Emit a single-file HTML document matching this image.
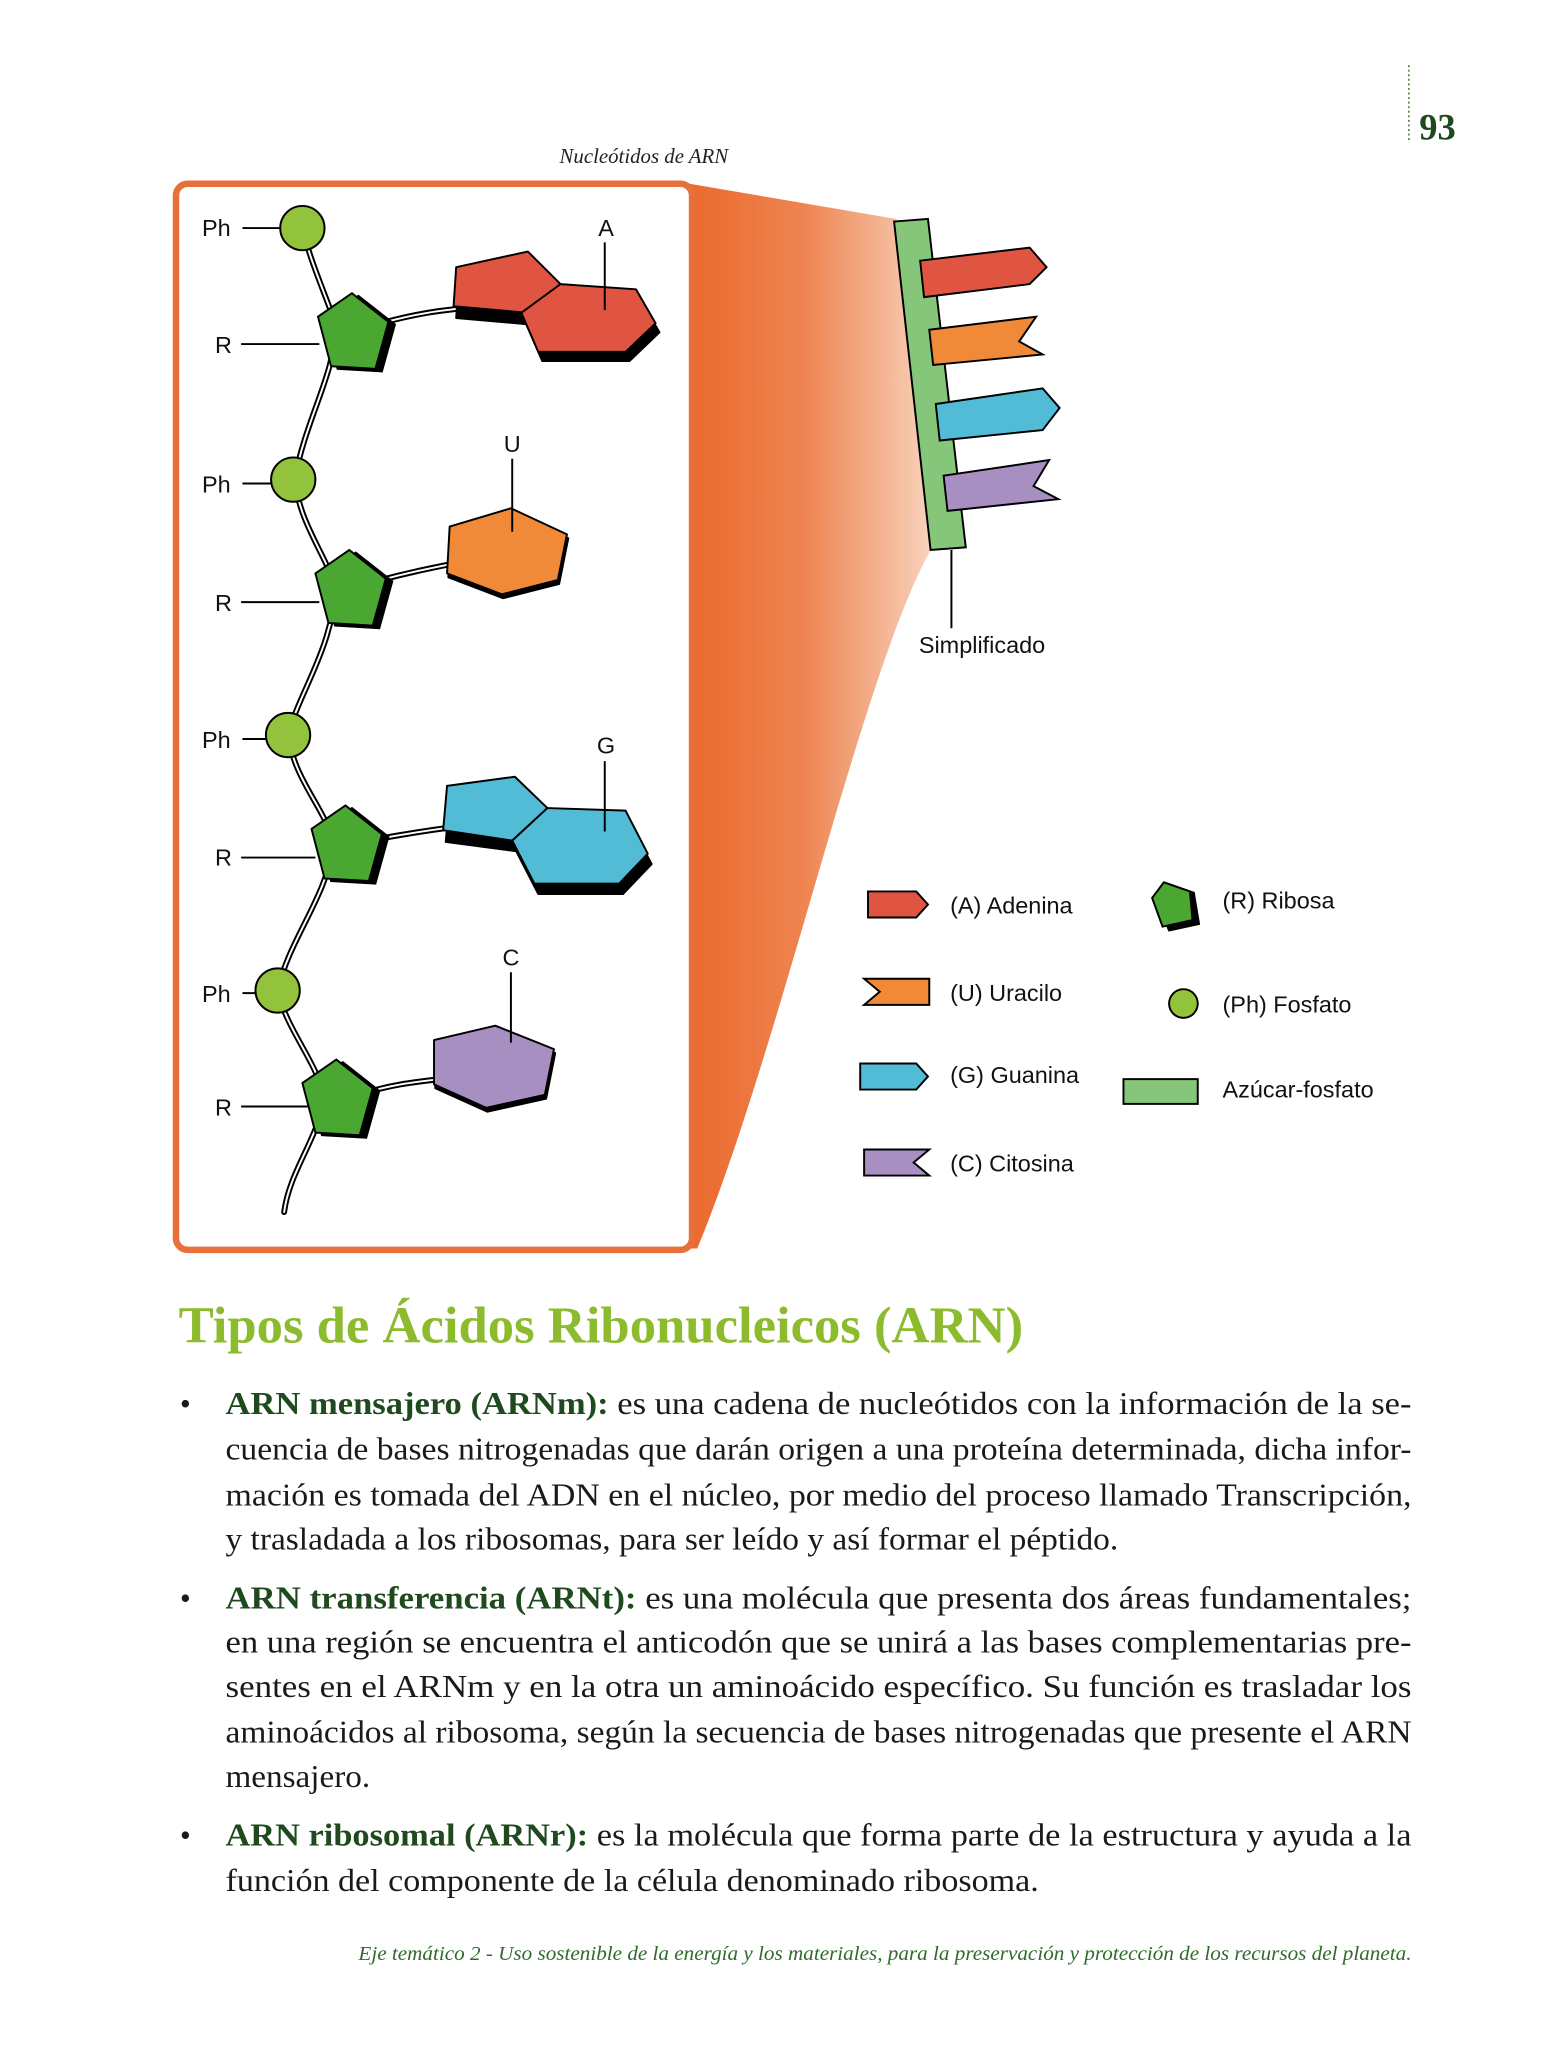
<!DOCTYPE html>
<html><head><meta charset="utf-8">
<style>
html,body{margin:0;padding:0;background:#fff;}
svg{display:block;}
.sans{font-family:"Liberation Sans",sans-serif;}
.serif{font-family:"Liberation Serif",serif;}
</style></head>
<body>
<svg width="1564" height="2048" viewBox="0 0 1200 1571.4" xmlns="http://www.w3.org/2000/svg">
<defs>
<linearGradient id="fan" x1="531" y1="0" x2="720" y2="0" gradientUnits="userSpaceOnUse">
<stop offset="0" stop-color="#ea6a2e"/><stop offset="0.45" stop-color="#ee8450"/><stop offset="1" stop-color="#f9d6c2"/>
</linearGradient>
</defs>
<rect width="1200" height="1572" fill="#fff"/>
<line x1="1081" y1="50" x2="1081" y2="108" stroke="#4a7a3a" stroke-width="1.2" stroke-dasharray="1.5,2"/>
<text x="1089" y="107" class="serif" font-size="28" font-weight="bold" fill="#1e4a1e">93</text>
<text x="494" y="125" class="serif" font-size="16" font-style="italic" text-anchor="middle" fill="#222">Nucleótidos de ARN</text>

<path d="M529,141 L688,168 L714,422 C660,520 600,800 535,958 L529,958 Z" fill="url(#fan)"/>
<rect x="135" y="141" width="396" height="818" rx="9" fill="#fff" stroke="#e8703a" stroke-width="5"/>

<polygon points="686,170 712,168 741,420 714,422" fill="#86c67a" stroke="#000" stroke-width="1.5"/>
<polygon points="706,200 790,190 803,205 790,218 709,228" fill="#e05541" stroke="#000" stroke-width="1.5"/>
<polygon points="713,253 795,243 782,262 800,272 716,280" fill="#f08a38" stroke="#000" stroke-width="1.5"/>
<polygon points="718,310 800,298 813,313 800,330 721,338" fill="#52bcd6" stroke="#000" stroke-width="1.5"/>
<polygon points="724,365 805,353 793,373 812,383 727,392" fill="#a88fc2" stroke="#000" stroke-width="1.5"/>
<line x1="730" y1="422" x2="730" y2="482" stroke="#000" stroke-width="1.5"/>
<text x="705" y="501" class="sans" font-size="18" fill="#111">Simplificado</text>

<g fill="none" stroke-linecap="round">
<path d="M232,175 C238,200 248,222 258,250 C256,290 235,320 226,368 C230,400 246,420 258,450 C254,500 230,530 221,564 C226,600 250,620 256,648 C250,690 222,720 213,760 C220,790 240,810 250,843 C240,880 222,900 218,930" stroke="#000" stroke-width="4.5"/>
<path d="M232,175 C238,200 248,222 258,250 C256,290 235,320 226,368 C230,400 246,420 258,450 C254,500 230,530 221,564 C226,600 250,620 256,648 C250,690 222,720 213,760 C220,790 240,810 250,843 C240,880 222,900 218,930" stroke="#fff" stroke-width="1.5"/>
<g stroke="#000" stroke-width="4.5">
<path d="M285,250 C320,240 340,238 360,236"/><path d="M285,447 C310,440 330,436 350,432"/><path d="M283,645 C310,640 330,637 345,635"/><path d="M275,840 C300,832 320,830 338,828"/>
</g>
<g stroke="#fff" stroke-width="1.5">
<path d="M285,250 C320,240 340,238 360,236"/><path d="M285,447 C310,440 330,436 350,432"/><path d="M283,645 C310,640 330,637 345,635"/><path d="M275,840 C300,832 320,830 338,828"/>
</g>
</g>
<g class="sans" font-size="18" fill="#111">
<text x="155" y="181">Ph</text><text x="155" y="378">Ph</text><text x="155" y="574">Ph</text><text x="155" y="769">Ph</text>
<text x="165" y="271">R</text><text x="165" y="469">R</text><text x="165" y="664">R</text><text x="165" y="856">R</text>
</g>
<g stroke="#000" stroke-width="1.5">
<line x1="186" y1="175" x2="215" y2="175"/><line x1="186" y1="371" x2="208" y2="371"/><line x1="186" y1="567" x2="204" y2="567"/><line x1="186" y1="762" x2="196" y2="762"/>
<line x1="185" y1="264" x2="245" y2="264"/><line x1="185" y1="462" x2="245" y2="462"/><line x1="185" y1="658" x2="242" y2="658"/><line x1="185" y1="849" x2="236" y2="849"/>
</g>
<g fill="#93c23d" stroke="#000" stroke-width="1.5">
<circle cx="232" cy="175" r="17"/><circle cx="225" cy="368" r="17"/><circle cx="221" cy="564" r="17"/><circle cx="213" cy="760" r="17"/>
</g>
<g stroke="#000" stroke-width="1.5">
<g transform="translate(268,255)"><polygon points="2,-30 30,-8 20,28 -14,26 -24,-12" fill="#000" transform="translate(5,2)"/><polygon points="2,-30 30,-8 20,28 -14,26 -24,-12" fill="#4aa832"/></g>
<g transform="translate(266,452)"><polygon points="2,-30 30,-8 20,28 -14,26 -24,-12" fill="#000" transform="translate(5,2)"/><polygon points="2,-30 30,-8 20,28 -14,26 -24,-12" fill="#4aa832"/></g>
<g transform="translate(263,648)"><polygon points="2,-30 30,-8 20,28 -14,26 -24,-12" fill="#000" transform="translate(5,2)"/><polygon points="2,-30 30,-8 20,28 -14,26 -24,-12" fill="#4aa832"/></g>
<g transform="translate(256,843)"><polygon points="2,-30 30,-8 20,28 -14,26 -24,-12" fill="#000" transform="translate(5,2)"/><polygon points="2,-30 30,-8 20,28 -14,26 -24,-12" fill="#4aa832"/></g>
</g>
<g stroke="#000" stroke-width="1.5" stroke-linejoin="round">
<polygon points="350,208 405,197 430,220 405,244 348,239" fill="#000" transform="translate(2,5)"/>
<polygon points="430,220 488,224 503,250 480,272 413,272 400,242" fill="#000" transform="translate(3,5)"/>
<polygon points="350,205 405,193 430,218 405,240 348,235" fill="#e05541"/>
<polygon points="430,218 488,222 503,248 480,270 413,270 400,240" fill="#e05541"/>
<polygon points="345,404 392,390 435,410 428,445 385,456 343,440" fill="#000" transform="translate(1,3)"/>
<polygon points="345,404 392,390 435,410 428,445 385,456 343,440" fill="#f08a38"/>
<polygon points="343,606 395,600 420,623 393,648 340,641" fill="#000" transform="translate(2,5)"/>
<polygon points="420,623 480,626 497,658 475,681 410,681 393,648" fill="#000" transform="translate(3,5)"/>
<polygon points="343,603 395,596 420,620 393,645 340,637" fill="#52bcd6"/>
<polygon points="420,620 480,622 497,655 475,678 410,678 393,645" fill="#52bcd6"/>
<polygon points="333,798 380,787 425,805 418,840 373,850 333,832" fill="#000" transform="translate(1,3)"/>
<polygon points="333,798 380,787 425,805 418,840 373,850 333,832" fill="#a88fc2"/>
<line x1="464" y1="186" x2="464" y2="238"/><line x1="393" y1="352" x2="393" y2="408"/><line x1="464" y1="584" x2="464" y2="638"/><line x1="392" y1="746" x2="392" y2="800"/>
</g>
<g class="sans" font-size="18" fill="#111" text-anchor="middle">
<text x="465" y="181">A</text><text x="393" y="347">U</text><text x="465" y="578">G</text><text x="392" y="741">C</text>
</g>

<g stroke="#000" stroke-width="1.5">
<polygon points="666,684 703,684 712,694 703,704 666,704" fill="#e05541"/>
<polygon points="663,751 713,751 713,771 663,771 675,761" fill="#f08a38"/>
<polygon points="660,816 703,816 712,826 703,836 660,836" fill="#52bcd6"/>
<polygon points="663,882 713,882 701,892 713,902 663,902" fill="#a88fc2"/>
<polygon points="893,677 913,684 917,708 894,713 884,689" fill="#000" transform="translate(3,1)"/>
<polygon points="893,677 913,684 915,706 892,711 884,689" fill="#4aa832"/>
<circle cx="908" cy="770" r="11" fill="#93c23d"/>
<rect x="862" y="828" width="57" height="19" fill="#86c67a"/>
</g>
<g class="sans" font-size="18" fill="#111">
<text x="729" y="701">(A) Adenina</text>
<text x="729" y="768">(U) Uracilo</text>
<text x="729" y="831">(G) Guanina</text>
<text x="729" y="899">(C) Citosina</text>
<text x="938" y="697">(R) Ribosa</text>
<text x="938" y="777">(Ph) Fosfato</text>
<text x="938" y="842">Azúcar-fosfato</text>
</g>

<text x="137" y="1030" class="serif" font-size="40" font-weight="bold" fill="#8dbb2e" textLength="648" lengthAdjust="spacingAndGlyphs">Tipos de Ácidos Ribonucleicos (ARN)</text>

<g class="serif" font-size="24" fill="#1a1a1a">
<text x="138" y="1085">•</text><text x="138" y="1234">•</text><text x="138" y="1416">•</text>
<text x="173" y="1085" textLength="910" lengthAdjust="spacingAndGlyphs"><tspan font-weight="bold" fill="#1e4a1e">ARN mensajero (ARNm):</tspan> es una cadena de nucleótidos con la información de la se-</text>
<text x="173" y="1120" textLength="910" lengthAdjust="spacingAndGlyphs">cuencia de bases nitrogenadas que darán origen a una proteína determinada, dicha infor-</text>
<text x="173" y="1155" textLength="910" lengthAdjust="spacingAndGlyphs">mación es tomada del ADN en el núcleo, por medio del proceso llamado Transcripción,</text>
<text x="173" y="1189" textLength="685" lengthAdjust="spacingAndGlyphs">y trasladada a los ribosomas, para ser leído y así formar el péptido.</text>
<text x="173" y="1234" textLength="910" lengthAdjust="spacingAndGlyphs"><tspan font-weight="bold" fill="#1e4a1e">ARN transferencia (ARNt):</tspan> es una molécula que presenta dos áreas fundamentales;</text>
<text x="173" y="1268" textLength="910" lengthAdjust="spacingAndGlyphs">en una región se encuentra el anticodón que se unirá a las bases complementarias pre-</text>
<text x="173" y="1302" textLength="910" lengthAdjust="spacingAndGlyphs">sentes en el ARNm y en la otra un aminoácido específico. Su función es trasladar los</text>
<text x="173" y="1337" textLength="910" lengthAdjust="spacingAndGlyphs">aminoácidos al ribosoma, según la secuencia de bases nitrogenadas que presente el ARN</text>
<text x="173" y="1371" textLength="111" lengthAdjust="spacingAndGlyphs">mensajero.</text>
<text x="173" y="1416" textLength="910" lengthAdjust="spacingAndGlyphs"><tspan font-weight="bold" fill="#1e4a1e">ARN ribosomal (ARNr):</tspan> es la molécula que forma parte de la estructura y ayuda a la</text>
<text x="173" y="1451" textLength="624" lengthAdjust="spacingAndGlyphs">función del componente de la célula denominado ribosoma.</text>
</g>
<text x="1083" y="1504" class="serif" font-size="15" font-style="italic" fill="#2f6b2a" text-anchor="end" textLength="808" lengthAdjust="spacingAndGlyphs">Eje temático 2 - Uso sostenible de la energía y los materiales, para la preservación y protección de los recursos del planeta.</text>
</svg>
</body></html>
